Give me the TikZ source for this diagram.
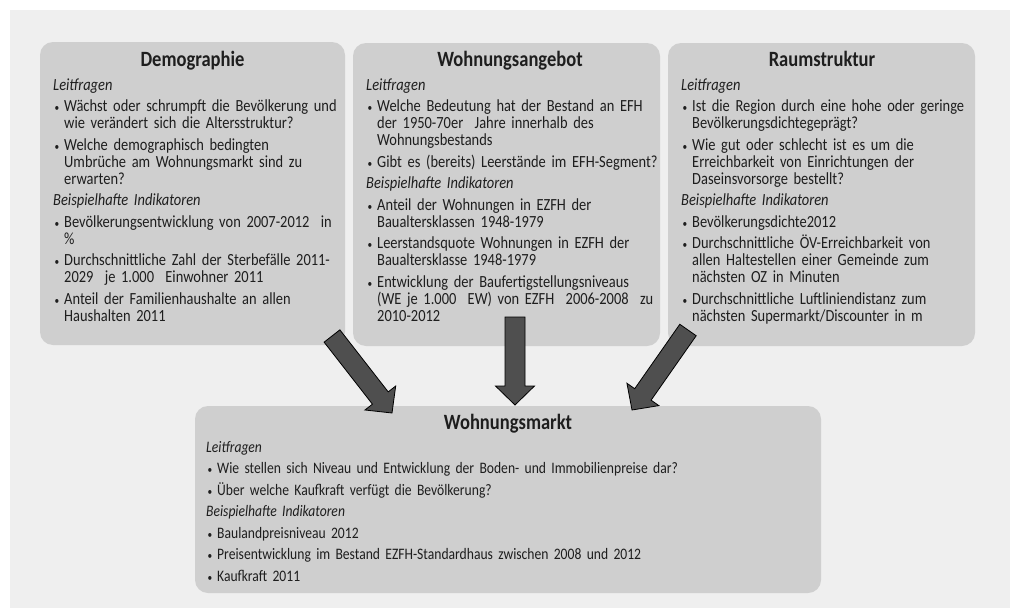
\documentclass[tikz,border=0pt]{standalone}
\usepackage{fontspec}
\setmainfont{Carlito}[FakeStretch=0.85, WordSpace=0.6]
\usetikzlibrary{calc}
\definecolor{bggray}{HTML}{EFEFEF}
\definecolor{boxgray}{HTML}{CFCFCF}
\definecolor{arrowgray}{HTML}{4F4F4F}
\definecolor{txt}{HTML}{1E1E1E}
\newlength\itemgap \setlength\itemgap{4.5pt}
\newcommand\itm[1]{\par\vspace{\itemgap}\hangindent=11pt\hangafter=1\noindent\hbox to 11pt{\hskip1.5pt{\fontsize{11pt}{11pt}\selectfont\textbullet}\hfil}#1}
\newcommand\hd[1]{\par\vspace{\itemgap}\noindent\textit{#1}}
\newcommand\fatarrow[2]{%
  \coordinate (#1h) at ($(#2)!19pt!(#1)$);
  \draw[fat] ($(#1)!10pt!90:(#2)$) -- ($(#1h)!10pt!90:(#2)$) -- ($(#1h)!19.5pt!90:(#2)$)
    -- (#2) -- ($(#1h)!19.5pt!-90:(#2)$) -- ($(#1h)!10pt!-90:(#2)$) -- ($(#1)!10pt!-90:(#2)$) -- cycle;}
\tikzset{
  box/.style={fill=boxgray, rounded corners=13pt, draw=none, inner sep=0pt},
  ttl/.style={font=\fontsize{21.8pt}{24pt}\selectfont\bfseries, anchor=base, inner sep=0pt, text=txt},
  body/.style={font=\fontsize{17pt}{17pt}\selectfont, anchor=base west, inner sep=0pt, text width=#1, align=left, text=txt},
  bodysm/.style={font=\fontsize{16pt}{17pt}\selectfont, anchor=base west, inner sep=0pt, text width=#1, align=left, text=txt},
  fat/.style={fill=arrowgray, draw=black, line width=0.8pt, line join=miter}
}
\begin{document}
\begin{tikzpicture}[x=1pt,y=-1pt]
\useasboundingbox (0,0) rectangle (1010,608);
\fill[white] (0,0) rectangle (1010,608);
\fill[bggray] (10,10) rectangle (1010,608);

% boxes
\node[box, minimum width=305pt, minimum height=303pt] (demo) at (192.5,193.5) {};
\node[box, minimum width=307pt, minimum height=303pt] (angebot) at (506.5,194.5) {};
\node[box, minimum width=307pt, minimum height=303pt] (raum) at (821.5,194.5) {};
\node[box, minimum width=626pt, minimum height=187pt] (markt) at (508,499.5) {};

% titles
\node[ttl] (tdemo) at (192.5,66.5) {Demographie};
\node[ttl] (tangebot) at (510,66.5) {Wohnungsangebot};
\node[ttl] (traum) at (822,66.5) {Raumstruktur};
\node[ttl] (tmarkt) at (508,429) {Wohnungsmarkt};

% bodies
\node[body=300pt] (bdemo) at (53,90) {\textit{Leitfragen}
\itm{Wächst oder schrumpft die Bevölkerung und\newline wie verändert sich die Altersstruktur?}
\itm{Welche demographisch bedingten\newline Umbrüche am Wohnungsmarkt sind zu\newline erwarten?}
\hd{Beispielhafte Indikatoren}
\itm{Bevölkerungsentwicklung von 2007-2012\ \ in\newline \%}
\itm{Durchschnittliche Zahl der Sterbefälle 2011-\newline 2029\ \ je 1.000\ \ Einwohner 2011}
\itm{Anteil der Familienhaushalte an allen\newline Haushalten 2011}\par};

\node[body=300pt] (bangebot) at (366,90) {\textit{Leitfragen}
\itm{Welche Bedeutung hat der Bestand an EFH\newline der 1950-70er\ \ Jahre innerhalb des\newline Wohnungsbestands}
\itm{Gibt es (bereits) Leerstände im EFH-Segment?}
\hd{Beispielhafte Indikatoren}
\itm{Anteil der Wohnungen in EZFH der\newline Baualtersklassen 1948-1979}
\itm{Leerstandsquote Wohnungen in EZFH der\newline Baualtersklasse 1948-1979}
\itm{Entwicklung der Baufertigstellungsniveaus\newline (WE je 1.000\ \ EW) von EZFH\ \ 2006-2008\ \ zu\newline 2010-2012}\par};

\node[body=300pt] (braum) at (681,90) {\textit{Leitfragen}
\itm{Ist die Region durch eine hohe oder geringe\newline Bevölkerungsdichtegeprägt?}
\itm{Wie gut oder schlecht ist es um die\newline Erreichbarkeit von Einrichtungen der\newline Daseinsvorsorge bestellt?}
\hd{Beispielhafte Indikatoren}
\itm{Bevölkerungsdichte2012}
\itm{Durchschnittliche ÖV-Erreichbarkeit von\newline allen Haltestellen einer Gemeinde zum\newline nächsten OZ in Minuten}
\itm{Durchschnittliche Luftliniendistanz zum\newline nächsten Supermarkt/Discounter in m}\par};

\node[bodysm=600pt] (bmarkt) at (206,452) {\textit{Leitfragen}
\itm{Wie stellen sich Niveau und Entwicklung der Boden- und Immobilienpreise dar?}
\itm{Über welche Kaufkraft verfügt die Bevölkerung?}
\hd{Beispielhafte Indikatoren}
\itm{Baulandpreisniveau 2012}
\itm{Preisentwicklung im Bestand EZFH-Standardhaus zwischen 2008 und 2012}
\itm{Kaufkraft 2011}\par};

% arrows
\coordinate (aLs) at (332,336);
\coordinate (aLe) at (392,413);
\coordinate (aMs) at (515,317);
\coordinate (aMe) at (515,405);
\coordinate (aRs) at (688,330);
\coordinate (aRe) at (632,410);
\fatarrow{aLs}{aLe}
\fatarrow{aMs}{aMe}
\fatarrow{aRs}{aRe}
\end{tikzpicture}
\end{document}
